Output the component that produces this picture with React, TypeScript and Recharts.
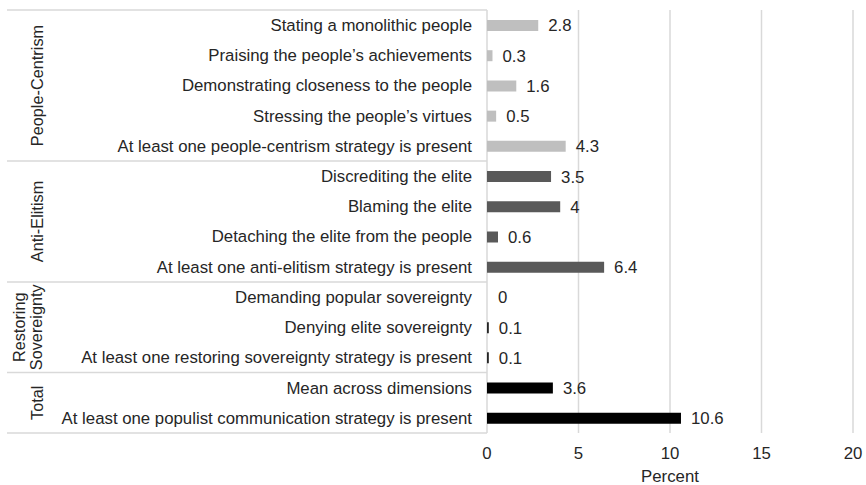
import { BarChart, Bar, XAxis, YAxis, CartesianGrid, LabelList, Cell } from 'recharts';

const categories = [
  'Stating a monolithic people',
  'Praising the people\u2019s achievements',
  'Demonstrating closeness to the people',
  'Stressing the people\u2019s virtues',
  'At least one people-centrism strategy is present',
  'Discrediting the elite',
  'Blaming the elite',
  'Detaching the elite from the people',
  'At least one anti-elitism strategy is present',
  'Demanding popular sovereignty',
  'Denying elite sovereignty',
  'At least one restoring sovereignty strategy is present',
  'Mean across dimensions',
  'At least one populist communication strategy is present',
];

const values = [2.8, 0.3, 1.6, 0.5, 4.3, 3.5, 4, 0.6, 6.4, 0, 0.1, 0.1, 3.6, 10.6];

// group index of each row
const groupOf = [0, 0, 0, 0, 0, 1, 1, 1, 1, 2, 2, 2, 3, 3];
const groupNames = [['People-Centrism'], ['Anti-Elitism'], ['Restoring', 'Sovereignty'], ['Total']];
const groupColors = ['#bfbfbf', '#595959', '#262626', '#000000'];

const xTicks = [0, 5, 10, 15, 20];

const data = categories.map((name, i) => ({ name, value: values[i], group: groupOf[i] }));

const W = 866;
const H = 485;
const TOP = 10;
const BOTTOM_AXIS = 52;
const BAND = (H - TOP - BOTTOM_AXIS) / categories.length;
const FONT = '"Liberation Sans", Arial, sans-serif';
const FS = 16.8;

function CategoryTick(props: any) {
  const { y, index } = props;
  const g = groupOf[index];
  const first = index === 0 || groupOf[index - 1] !== g;
  const last = index === categories.length - 1 || groupOf[index + 1] !== g;
  const size = groupOf.filter((v) => v === g).length;
  const lines = groupNames[g];
  const gy = y + ((size - 1) / 2) * BAND;
  return (
    <g>
      <text x={472} y={y} dy="0.35em" textAnchor="end" fontSize={FS} fill="#262626" fontFamily={FONT}>
        {categories[index]}
      </text>
      {index === 0 && <line x1={7} x2={487} y1={y - BAND / 2} y2={y - BAND / 2} stroke="#d9d9d9" strokeWidth={1.5} />}
      {last && <line x1={7} x2={487} y1={y + BAND / 2} y2={y + BAND / 2} stroke="#d9d9d9" strokeWidth={1.5} />}
      {first &&
        lines.map((t, k) => {
          const cx = lines.length === 1 ? 37 : 19 + k * 17;
          return (
            <text
              key={t}
              x={cx}
              y={gy}
              dy="0.35em"
              textAnchor="middle"
              fontSize={16.3}
              fill="#262626"
              fontFamily={FONT}
              transform={`rotate(-90 ${cx} ${gy})`}
            >
              {t}
            </text>
          );
        })}
    </g>
  );
}

export default function App() {
  return (
    <div style={{ position: 'absolute', left: 0, top: 0, width: W, height: H, background: '#fff' }}>
      <BarChart
        width={W}
        height={H}
        data={data}
        layout="vertical"
        margin={{ top: TOP, right: 13, bottom: 0, left: 0 }}
        barCategoryGap={0}
      >
        <CartesianGrid horizontal={false} stroke="#d9d9d9" strokeWidth={1.5} />
        <XAxis
          type="number"
          domain={[0, 20]}
          ticks={xTicks}
          axisLine={false}
          tickLine={false}
          height={BOTTOM_AXIS}
          tick={{ fontSize: FS, fill: '#262626', fontFamily: FONT }}
          tickMargin={8}
          label={{ value: 'Percent', position: 'insideBottom', offset: 3, fontSize: FS, fill: '#262626', fontFamily: FONT }}
        />
        <YAxis
          type="category"
          dataKey="name"
          width={487}
          axisLine={false}
          tickLine={false}
          interval={0}
          tick={<CategoryTick />}
        />
        <Bar dataKey="value" barSize={11} minPointSize={1} isAnimationActive={false}>
          {data.map((d, i) => (
            <Cell key={i} fill={d.value === 0 ? 'transparent' : groupColors[d.group]} />
          ))}
          <LabelList dataKey="value" position="right" offset={10} fontSize={FS} fill="#262626" fontFamily={FONT} />
        </Bar>
      </BarChart>
    </div>
  );
}
